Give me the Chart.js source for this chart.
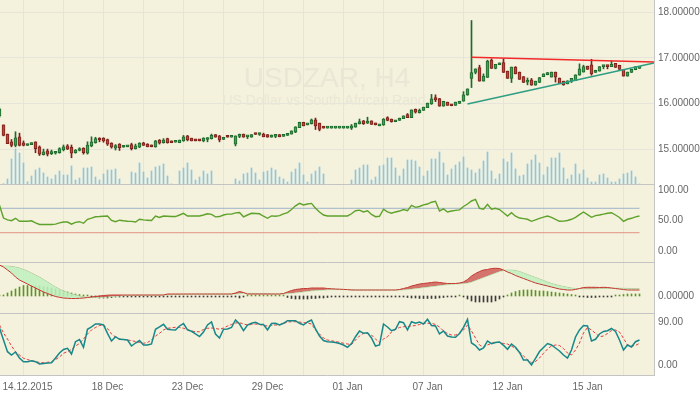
<!DOCTYPE html>
<html>
<head>
<meta charset="utf-8">
<script src="https://cdn.jsdelivr.net/npm/chart.js@4.4.1/dist/chart.umd.min.js"></script>
<style>
  html, body { margin: 0; padding: 0; background: #fff; }
  #wrap { position: relative; width: 700px; height: 394px; overflow: hidden; background: #fff; }
  .pane { position: absolute; left: 0; width: 700px; }
</style>
</head>
<body>
<div id="wrap">
  <div class="pane" style="top:0;height:185px"><canvas id="cPrice"></canvas></div>
  <div class="pane" style="top:185px;height:78px"><canvas id="cRsi"></canvas></div>
  <div class="pane" style="top:263px;height:51px"><canvas id="cMacd"></canvas></div>
  <div class="pane" style="top:314px;height:80px"><canvas id="cStoch"></canvas></div>
</div>
<script>
// USDZAR H4 candles, one entry per bar (index 0 = first bar on the left)
const opens = [
  15.73,15.53,15.33,15.16,15.08,15.27,15.14,15.08,15.10,15.16,
  15.05,14.88,14.96,14.90,14.91,14.92,14.98,15.07,15.04,14.92,
  14.97,15.02,14.91,15.07,15.14,15.24,15.24,15.21,15.13,15.02,
  15.11,15.04,15.05,15.10,15.01,15.04,15.14,15.11,15.09,15.05,
  15.20,15.14,15.23,15.18,15.15,15.14,15.18,15.29,15.24,15.21,
  15.21,15.18,15.21,15.23,15.32,15.29,15.21,15.29,15.26,15.11,
  15.28,15.33,15.27,15.26,15.35,15.32,15.33,15.32,15.26,15.28,
  15.32,15.28,15.30,15.33,15.37,15.47,15.59,15.53,15.56,15.64,
  15.57,15.50,15.46,15.46,15.46,15.46,15.46,15.46,15.46,15.48,
  15.56,15.62,15.57,15.62,15.57,15.51,15.53,15.69,15.66,15.60,
  15.63,15.67,15.76,15.69,15.87,15.80,15.85,15.91,15.99,16.13,
  16.11,15.94,16.03,15.98,15.96,16.00,16.05,16.19,16.55,16.68,
  16.79,16.49,16.57,16.95,16.77,16.85,16.90,16.71,16.55,16.80,
  16.69,16.59,16.47,16.52,16.40,16.46,16.59,16.63,16.58,16.69,
  16.56,16.49,16.43,16.49,16.50,16.62,16.69,16.82,16.85,16.68,
  16.71,16.81,16.84,16.81,16.88,16.84,16.75,16.60,16.68,16.74,
  16.77
];
const highs = [
  15.90,15.53,15.33,15.21,15.38,15.35,15.18,15.11,15.14,15.16,
  15.07,15.00,15.00,14.98,14.95,15.03,15.09,15.10,15.09,14.99,
  15.03,15.03,15.16,15.27,15.26,15.25,15.25,15.22,15.14,15.10,
  15.12,15.06,15.06,15.13,15.11,15.14,15.15,15.12,15.09,15.19,
  15.21,15.23,15.24,15.18,15.16,15.20,15.30,15.30,15.24,15.21,
  15.21,15.25,15.25,15.33,15.32,15.30,15.26,15.29,15.26,15.29,
  15.33,15.33,15.28,15.32,15.35,15.35,15.35,15.32,15.31,15.31,
  15.32,15.32,15.34,15.40,15.49,15.59,15.59,15.55,15.66,15.68,
  15.57,15.50,15.46,15.46,15.46,15.46,15.46,15.46,15.54,15.57,
  15.66,15.63,15.70,15.62,15.57,15.53,15.67,15.71,15.66,15.63,
  15.68,15.73,15.78,15.86,15.88,15.88,15.92,16.01,16.20,16.19,
  16.11,16.05,16.03,15.98,16.03,16.05,16.26,16.32,17.82,16.76,
  16.84,16.65,16.95,16.98,16.86,16.89,16.98,16.71,16.80,16.81,
  16.69,16.59,16.56,16.55,16.49,16.57,16.65,16.68,16.69,16.69,
  16.56,16.49,16.50,16.55,16.63,16.87,16.84,16.82,16.97,16.73,
  16.81,16.83,16.84,16.94,16.88,16.84,16.75,16.69,16.75,16.81,
  16.81
];
const lows = [
  15.70,15.29,15.12,15.05,15.05,15.07,15.07,15.08,15.10,14.92,
  14.86,14.87,14.85,14.88,14.89,14.91,14.96,14.99,14.81,14.91,
  14.96,14.89,14.89,15.05,15.13,15.16,15.15,15.08,15.02,14.98,
  14.97,15.04,15.05,14.98,15.00,15.03,15.08,15.05,15.05,15.04,
  15.11,15.13,15.13,15.14,15.15,15.14,15.17,15.18,15.18,15.18,
  15.18,15.16,15.16,15.22,15.26,15.16,15.21,15.26,15.26,15.07,
  15.25,15.26,15.23,15.26,15.32,15.30,15.27,15.26,15.26,15.25,
  15.27,15.28,15.30,15.33,15.36,15.47,15.51,15.53,15.55,15.43,
  15.40,15.46,15.46,15.46,15.46,15.46,15.46,15.46,15.43,15.48,
  15.55,15.54,15.56,15.54,15.53,15.51,15.52,15.62,15.59,15.60,
  15.63,15.67,15.69,15.69,15.79,15.79,15.85,15.91,15.98,16.04,
  15.94,15.94,15.96,15.95,15.96,16.00,16.05,16.18,16.35,16.65,
  16.49,16.49,16.57,16.77,16.76,16.85,16.68,16.55,16.46,16.65,
  16.53,16.46,16.41,16.40,16.40,16.46,16.59,16.63,16.58,16.47,
  16.44,16.40,16.43,16.46,16.50,16.62,16.69,16.75,16.62,16.68,
  16.71,16.76,16.76,16.81,16.79,16.75,16.60,16.60,16.68,16.74,
  16.77
];
const closes = [
  15.88,15.30,15.12,15.08,15.25,15.08,15.08,15.11,15.14,15.01,
  14.89,14.94,14.89,14.94,14.94,15.01,15.05,15.00,14.91,14.98,
  15.00,14.92,15.09,15.16,15.23,15.20,15.18,15.11,15.04,15.08,
  15.03,15.06,15.06,15.01,15.07,15.13,15.08,15.05,15.05,15.18,
  15.13,15.20,15.14,15.14,15.16,15.20,15.27,15.20,15.18,15.18,
  15.18,15.24,15.24,15.30,15.26,15.20,15.26,15.26,15.26,15.29,
  15.32,15.26,15.28,15.32,15.32,15.33,15.27,15.26,15.31,15.31,
  15.27,15.32,15.34,15.40,15.49,15.59,15.51,15.55,15.64,15.51,
  15.43,15.46,15.46,15.46,15.46,15.46,15.46,15.46,15.51,15.57,
  15.60,15.56,15.59,15.54,15.53,15.53,15.66,15.63,15.60,15.63,
  15.68,15.73,15.69,15.86,15.81,15.85,15.92,16.01,16.10,16.08,
  15.94,16.05,15.96,15.95,16.03,16.05,16.19,16.32,16.68,16.76,
  16.49,16.60,16.93,16.77,16.86,16.87,16.68,16.55,16.80,16.65,
  16.53,16.46,16.50,16.40,16.49,16.57,16.65,16.68,16.69,16.58,
  16.44,16.41,16.50,16.55,16.63,16.76,16.81,16.75,16.65,16.73,
  16.81,16.83,16.81,16.86,16.79,16.75,16.60,16.69,16.75,16.81,
  16.81
];
const volumes = [
  0,13,60,260,360,320,220,33,90,150,
  170,120,80,60,100,140,100,100,190,50,
  70,170,170,180,80,50,110,150,150,160,
  60,0,0,130,120,220,130,70,140,180,
  190,210,90,10,0,140,170,220,150,50,
  80,140,110,140,0,0,0,0,0,60,
  40,110,120,170,120,50,130,140,170,150,
  80,60,30,130,160,220,100,30,110,140,
  180,110,0,0,0,0,0,0,50,150,
  170,200,200,50,80,190,200,270,270,170,
  90,160,250,250,240,180,90,140,260,260,
  330,220,100,160,200,230,280,170,150,120,
  160,240,330,140,60,110,260,230,320,160,
  90,100,210,250,300,220,100,180,270,270,
  320,170,60,100,210,110,150,70,30,30,
  100,110,70,30,30,60,110,120,140,80,
  10
];
const rsi = [
  75,54,51,49.7,53.6,48.7,48.7,48.7,49.5,46,
  43.5,43.5,43.5,43.5,44,46,47.5,47.5,44,47,
  48,45.4,52,54,56.2,56.5,57,57.4,50,48,
  50.5,49.5,48.7,48.5,47.5,52,51,50.5,50,57.4,
  55,57.4,57,56.5,56.5,59,61.8,57.4,57.4,57.4,
  57.4,59,61,60,56,56.5,59,60.5,60.5,62.5,
  63,56,59,61.8,61.5,61,57,53.6,57.5,57,
  58,61,63,68,74,78.2,75.4,77,78,70,
  64,59,57.4,57.4,57.4,57.4,57.4,57.4,61,66,
  67,64,66,60,56.2,57,68.4,64,62,64,
  65.5,68,66,74.9,71.6,73,75.5,77,80,81.5,
  65.6,69,64,65.5,66.5,67.5,73,77,82,84.5,
  70,68.4,76.6,68.5,70,68,62.8,57.4,62.8,57,
  54,53,52,48.7,51,53.6,55.5,57.4,55,52,
  48.7,49,50,52,55,59.5,63.9,59.5,55.2,58,
  59,60.5,61.8,62.8,59,55,48.7,52,53.6,56,
  57.4
];
const macdMain = [
  .31,.29,.26,.23,.19,.16,.14,.12,.10,.08,
  .06,.04,.025,.01,-.005,-.013,-.02,-.023,-.025,-.025,
  -.023,-.02,-.015,-.01,-.005,0,.005,.008,.01,.01,
  .01,.01,.01,.01,.01,.01,.01,.01,.01,.01,
  .01,.01,.02,.02,.02,.02,.02,.02,.02,.02,
  .02,.02,.02,.02,.02,.02,.02,.02,.02,.03,
  .045,.035,.02,.02,.02,.02,.02,.02,.02,.02,
  .02,.025,.04,.055,.065,.07,.075,.075,.08,.08,
  .08,.08,.075,.072,.07,.068,.066,.064,.06,.06,
  .06,.06,.06,.06,.06,.06,.06,.06,.06,.06,
  .065,.075,.085,.10,.11,.12,.125,.13,.135,.14,
  .135,.13,.125,.125,.125,.13,.14,.165,.20,.225,
  .245,.26,.265,.275,.277,.275,.26,.24,.225,.205,
  .19,.175,.16,.145,.13,.12,.11,.10,.09,.08,
  .07,.065,.06,.06,.065,.075,.085,.087,.087,.087,
  .085,.087,.085,.08,.075,.07,.065,.06,.06,.06,
  .06
];
const macdSignal = [
  .305,.30,.30,.295,.29,.28,.265,.25,.23,.21,
  .19,.165,.14,.115,.09,.07,.05,.035,.02,.01,
  0,-.008,-.013,-.015,-.016,-.015,-.013,-.01,-.006,-.003,
  0,.004,.005,.005,.006,.006,.007,.007,.008,.008,
  .008,.009,.012,.014,.015,.016,.017,.017,.018,.018,
  .018,.018,.018,.018,.018,.018,.018,.018,.018,.02,
  .024,.027,.027,.026,.025,.024,.023,.022,.021,.02,
  .021,.022,.025,.028,.032,.037,.042,.047,.052,.055,
  .058,.06,.062,.064,.064,.064,.064,.064,.062,.061,
  .06,.06,.06,.06,.06,.06,.06,.06,.06,.06,
  .06,.062,.066,.07,.075,.08,.085,.09,.095,.10,
  .105,.11,.114,.117,.12,.122,.125,.13,.14,.155,
  .17,.185,.20,.215,.23,.245,.255,.26,.26,.255,
  .245,.23,.215,.20,.185,.17,.155,.14,.125,.115,
  .105,.095,.087,.08,.075,.073,.072,.072,.072,.073,
  .074,.075,.076,.077,.078,.078,.077,.076,.075,.074,
  .073
];
const macdHist = [
  .005,.01,.03,.05,.07,.09,.105,.105,.105,.10,
  .10,.095,.09,.08,.07,.06,.05,.04,.03,.02,
  .015,.01,.005,-.01,-.015,-.02,-.02,-.02,-.015,-.01,
  -.003,-.003,-.003,-.003,-.003,-.003,-.003,-.003,-.003,-.003,
  -.003,-.003,-.003,-.003,-.003,-.003,-.003,-.003,-.003,-.003,
  -.003,-.003,-.003,-.003,-.003,-.003,-.003,-.003,-.003,-.01,
  -.02,-.01,.005,.005,.005,.005,.005,.005,.005,.005,
  .01,.005,-.015,-.025,-.03,-.03,-.03,-.03,-.025,-.025,
  -.02,-.02,-.015,-.01,-.005,-.003,-.003,-.003,-.003,-.003,
  -.003,-.003,-.003,-.003,-.003,-.003,-.003,-.003,-.003,-.003,
  -.005,-.01,-.015,-.02,-.02,-.025,-.025,-.025,-.025,-.025,
  -.02,-.015,-.01,-.005,-.003,.003,-.01,-.03,-.05,-.06,
  -.06,-.06,-.06,-.06,-.05,-.03,-.01,.01,.03,.045,
  .055,.06,.06,.06,.055,.05,.05,.045,.04,.035,
  .03,.025,.02,.015,.005,-.005,-.01,-.015,-.015,-.015,
  -.01,-.01,-.01,-.005,.005,.01,.015,.02,.02,.02,
  .02
];
const stochMain = [
  78.7,53.2,28.3,21.3,27.7,14.9,7,7,9.1,7,
  2.1,3.2,4.3,4.9,14.9,25.5,33,35.5,23.4,49.6,
  54.3,37.7,76,80.9,87.2,87.2,85.1,67.4,51.1,60.2,
  54.7,54.3,53.2,40.4,46.8,52.1,42.6,42.6,44.7,76,
  80.9,86.6,76,74.9,74.5,83,88.3,74.5,71.7,66,
  60.6,70.2,85.1,91.5,66,57.4,76,76.6,79.8,95.7,
  87.2,73,85.1,88.7,90.9,86.6,86.2,74.5,88.3,88.7,
  85.1,88.7,94.3,94.3,94.3,88.7,85.1,91.5,95.7,76.6,
  61.7,52.1,49.6,48.9,47.9,45.7,42.6,37.7,45.7,60.2,
  72.3,67.4,68.7,57.4,40.4,42.6,87.2,80.9,73,76,
  92.1,90,74.5,92.1,88.7,91.5,87.2,97.2,84,83,
  66,72.3,61.7,59.6,58.9,67,80.2,97.2,46.8,41.5,
  31.9,36.2,51.1,45.3,47.9,48.9,41.9,33.4,44.7,37.7,
  26.6,10.6,10.6,0,14.3,28.7,37.2,45.7,42.6,36.2,
  29.8,21.3,14.9,31.9,59.6,74.5,84,83,51.1,54.7,
  66,71.3,73,77.7,71.3,53.2,31.9,42.6,38.3,49.6,
  53.2
];
const stochSignal = [
  85.1,68.1,55.3,40.4,28.3,21.3,14.3,11.7,9.1,7.4,
  5.3,4.9,5.7,7,11.7,17,24.9,28.7,33,40.4,
  45.7,55.3,66,74.5,79.8,84,85.1,77.7,66,59.6,
  55.3,54.3,53.2,51.7,50,47.9,46.2,47.9,53.2,61.7,
  67.4,74.5,78.1,79.1,80.2,79.8,78.1,75.5,72.3,70.8,
  70.8,75.5,78.1,78.7,77.7,76,78.7,83,86.2,89.4,
  90,87.2,85.1,86.2,87.2,86.2,84,83,84,85.1,
  85.1,88.3,91.5,92.1,92.1,91.5,90,89.4,87.2,74.5,
  66,57.4,53.2,51.5,50,48.3,46.2,44.7,43.6,53.2,
  61.7,67.4,67,63.8,55.3,47.9,55.3,60.2,70.2,76,
  79.8,81.5,81.9,83,84,86.2,88.3,88.7,88.7,86.2,
  80.9,72.3,67,63.8,63.8,67,74.5,85.1,72.3,57.4,
  42.6,37.7,42.6,46.2,48.9,47.9,45.7,44.7,40.4,35.1,
  27.7,19.1,11.7,4.9,7.4,14.9,24.9,34,40.4,42.6,
  41.5,35.1,25.5,21.3,31.9,46.8,68.1,79.8,74.5,67.4,
  60.2,61.7,67,73.4,74.5,70.2,56.8,42.6,40.4,41.5,
  46.2
];

// axis ticks / labels
const gridIdx = [6,16,26,36,46,56,66,76,86,96,106,116,126,136,146,156];
const labelIdx = [6,26,46,66,86,106,126,146];
const labelText = ['14.12.2015','18 Dec','23 Dec','29 Dec','01 Jan','07 Jan','12 Jan','15 Jan'];
const priceTicks = [15,16,17,18];
const rsiTicks = [0,50,100];
const rsiLevels = [70,30];
const macdTicks = [0];
const stochTicks = [0,90];

// trend lines drawn on the price pane: [barIndex, price]
const resistLine = [[118,17.014],[163.6,16.91]];
const supportLine = [[117,15.99],[163.6,16.89]];

const BG = '#f4f1dc';
const GRID = '#e6e5dc';
const EDGE = '#c4c4c4';
const UP_LINE = '#1c6b2c', UP_FILL = '#4c9a58';
const DN_LINE = '#7e2019', DN_FILL = '#b8473c';

Chart.defaults.font.family = "'Liberation Sans', Arial, sans-serif";
Chart.defaults.font.size = 10;
Chart.defaults.color = '#666';
Chart.defaults.animation = false;
Chart.defaults.events = [];
Chart.defaults.plugins.legend.display = false;
Chart.defaults.plugins.tooltip.enabled = false;
Chart.defaults.elements.point.radius = 0;
Chart.defaults.elements.line.tension = 0;

const X_MIN = 0.125, X_MAX = 163.625;
const bars = arr => arr.map((v, i) => ({x: i, y: v}));
const isUp = i => closes[i] >= opens[i];

function xScale(showLabels) {
  return {
    type: 'linear', min: X_MIN, max: X_MAX, offset: false,
    afterBuildTicks: s => { s.ticks = gridIdx.map(v => ({value: v})); },
    afterFit: s => {
      s.paddingLeft = 0; s.paddingRight = 0;
      s.height = showLabels ? 18 : 0;
    },
    grid: {color: GRID, drawTicks: false, offset: false},
    border: {display: false},
    ticks: {
      display: showLabels, autoSkip: false, maxRotation: 0, padding: 5, labelOffset: 4,
      callback: v => { const i = labelIdx.indexOf(v); return i < 0 ? '' : labelText[i]; }
    }
  };
}

function yScale(min, max, ticks, digits, showGrid) {
  return {
    position: 'right', min, max,
    afterBuildTicks: s => { s.ticks = ticks.map(v => ({value: v})); },
    afterFit: s => { s.width = 46; s.paddingTop = 0; s.paddingBottom = 0; },
    grid: {display: showGrid, color: GRID, drawTicks: false},
    border: {display: false},
    ticks: {padding: 4, callback: v => v.toFixed(digits)}
  };
}

// cream plot background + separators
const frame = {
  id: 'frame',
  beforeDraw(chart) {
    const {ctx, chartArea: a} = chart;
    ctx.save();
    ctx.fillStyle = BG;
    ctx.fillRect(a.left, a.top, a.right - a.left, a.bottom - a.top);
    ctx.restore();
  },
  afterDraw(chart) {
    const {ctx, chartArea: a} = chart;
    ctx.save();
    ctx.strokeStyle = EDGE;
    ctx.lineWidth = 1;
    ctx.beginPath();
    ctx.moveTo(0, a.bottom - 0.5); ctx.lineTo(a.right + 1, a.bottom - 0.5);
    ctx.moveTo(a.right + 0.5, 0); ctx.lineTo(a.right + 0.5, a.bottom);
    ctx.stroke();
    ctx.restore();
  }
};

const watermark = {
  id: 'watermark',
  beforeDatasetsDraw(chart) {
    const ctx = chart.ctx;
    ctx.save();
    ctx.fillStyle = '#e9e7d5';
    ctx.textAlign = 'center';
    ctx.font = "28px 'Liberation Sans', Arial, sans-serif";
    ctx.fillText('USDZAR, H4', 327, 87);
    ctx.font = "14px 'Liberation Sans', Arial, sans-serif";
    ctx.fillText('US Dollar vs South African Rand', 324, 105);
    ctx.restore();
  }
};

// price pane: candles, volume, trend lines
new Chart(document.getElementById('cPrice'), {
  type: 'bar',
  data: {
    datasets: [
      {
        type: 'line', data: resistLine.map(p => ({x: p[0], y: p[1]})),
        borderColor: '#f22a2a', borderWidth: 1.6, order: 0
      },
      {
        type: 'line', data: supportLine.map(p => ({x: p[0], y: p[1]})),
        borderColor: '#2f9e82', borderWidth: 1.6, order: 0
      },
      {
        data: opens.map((o, i) => ({x: i, y: [o, closes[i]]})),
        grouped: false, barThickness: 3, borderWidth: 1, borderSkipped: false, minBarLength: 2,
        backgroundColor: c => isUp(c.dataIndex) ? UP_FILL : DN_FILL,
        borderColor: c => isUp(c.dataIndex) ? UP_LINE : DN_LINE,
        order: 1
      },
      {
        data: lows.map((l, i) => ({x: i, y: [l, highs[i]]})),
        grouped: false, barThickness: 1, borderWidth: 0,
        backgroundColor: c => isUp(c.dataIndex) ? UP_LINE : DN_LINE,
        order: 2
      },
      {
        data: bars(volumes), yAxisID: 'yv',
        grouped: false, barThickness: 1, borderWidth: 0,
        backgroundColor: '#8fc6de', order: 3
      }
    ]
  },
  options: {
    responsive: true, maintainAspectRatio: false,
    layout: {padding: 0},
    scales: {
      x: xScale(false),
      y: yScale(14.213, 18.27, priceTicks, 5, true),
      yv: {display: false, min: 0, max: 1850}
    }
  },
  plugins: [frame, watermark]
});

// RSI pane
new Chart(document.getElementById('cRsi'), {
  type: 'line',
  data: {
    datasets: [
      {data: bars(rsi), borderColor: '#5ea22c', borderWidth: 1.4},
      {data: [{x: 0, y: rsiLevels[0]}, {x: 160, y: rsiLevels[0]}], borderColor: '#9fb3c8', borderWidth: 1},
      {data: [{x: 0, y: rsiLevels[1]}, {x: 160, y: rsiLevels[1]}], borderColor: '#e39286', borderWidth: 1}
    ]
  },
  options: {
    responsive: true, maintainAspectRatio: false,
    layout: {padding: 0},
    scales: {x: xScale(false), y: yScale(-19.7, 108.2, rsiTicks, 2, false)}
  },
  plugins: [frame]
});

// MACD pane
new Chart(document.getElementById('cMacd'), {
  type: 'bar',
  data: {
    datasets: [
      {
        type: 'line', data: bars(macdMain), borderColor: '#c23b32', borderWidth: 1,
        fill: {target: 1, above: 'rgba(205,85,80,0.8)', below: 'rgba(190,240,190,0.85)'}, order: 0
      },
      {type: 'line', data: bars(macdSignal), borderColor: '#b6e6b0', borderWidth: 1, order: 1},
      {
        data: bars(macdHist), grouped: false, barThickness: 1, borderWidth: 0, minBarLength: 1,
        backgroundColor: c => c.raw && c.raw.y > 0 ? '#5b9624' : '#3c3c3c', order: 2
      }
    ]
  },
  options: {
    responsive: true, maintainAspectRatio: false,
    layout: {padding: 0},
    scales: {x: xScale(false), y: yScale(-0.18, 0.33, macdTicks, 5, false)}
  },
  plugins: [frame]
});

// Stochastic pane with date axis
new Chart(document.getElementById('cStoch'), {
  type: 'line',
  data: {
    datasets: [
      {data: bars(stochMain), borderColor: '#16888a', borderWidth: 1.5},
      {data: bars(stochSignal), borderColor: '#e8383d', borderWidth: 1, borderDash: [3, 2]}
    ]
  },
  options: {
    responsive: true, maintainAspectRatio: false,
    layout: {padding: 0},
    scales: {x: xScale(true), y: yScale(-23.4, 108.5, stochTicks, 2, false)}
  },
  plugins: [frame]
});
</script>
</body>
</html>
